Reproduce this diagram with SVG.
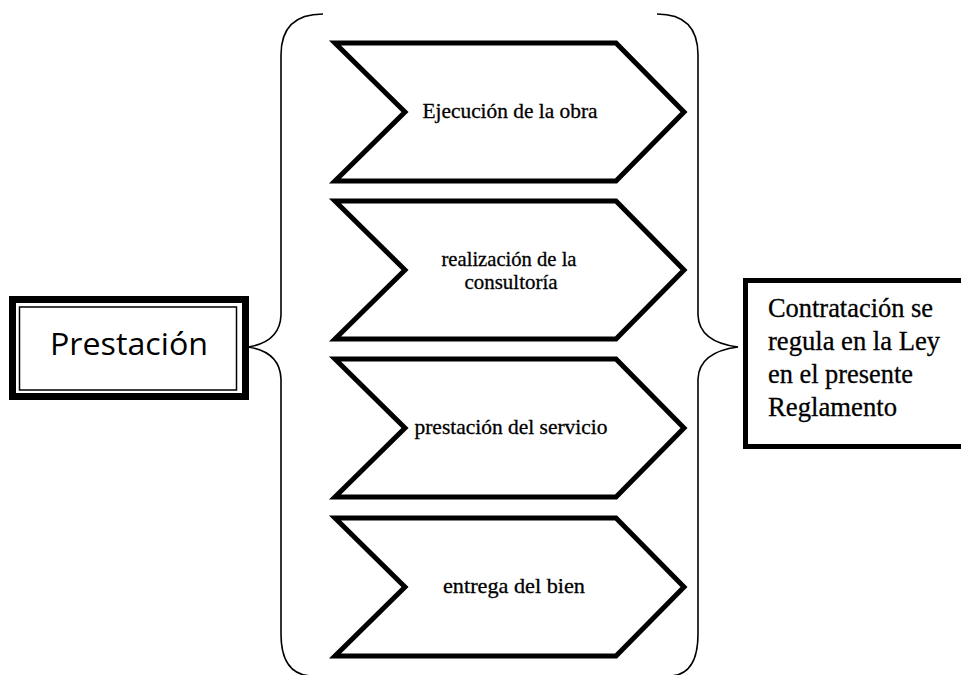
<svg xmlns="http://www.w3.org/2000/svg" width="961" height="675" viewBox="0 0 961 675">
<style>
.chev{fill:#fff;stroke:#000;stroke-width:5;stroke-linejoin:miter}
.brace{fill:none;stroke:#000;stroke-width:1.6}
.ct{font-family:"Liberation Serif","Times New Roman",serif;font-size:21px;fill:#000;stroke:#000;stroke-width:0.3;text-anchor:middle}
.rt{font-family:"Liberation Serif","Times New Roman",serif;font-size:27px;fill:#000;stroke:#000;stroke-width:0.3}
</style>
<rect width="961" height="675" fill="#fff"/>
<g id="connectors">
<path class="brace" d="M323 14 Q281 14 281 55 L281 315 Q280 342 248 347 Q280 352 281 379 L281 634 Q281 675 312 676"/>
<path class="brace" d="M657 14 Q698 14 698 55 L698 315 Q699 342 738 347 Q699 352 698 379 L698 634 Q698 675 670 676"/>
</g>
<g id="prestacion">
<rect x="12.5" y="299.5" width="233" height="97" fill="#fff" stroke="#000" stroke-width="7"/>
<rect x="19.5" y="307" width="217" height="83" fill="none" stroke="#000" stroke-width="1.5"/>
<text x="129" y="355" font-family="'Open Sans','Noto Sans',sans-serif" font-size="31" text-anchor="middle" textLength="158" lengthAdjust="spacingAndGlyphs">Prestación</text>
</g>
<g id="chevron1">
<polygon class="chev" points="335,43 616,43 684,112 616,181 335,181 405,112"/>
<text class="ct" x="510" y="118" textLength="175" lengthAdjust="spacingAndGlyphs">Ejecución de la obra</text>
</g>
<g id="chevron2">
<polygon class="chev" points="335,201 616,201 684,270 616,339 335,339 405,270"/>
<text class="ct" x="509" y="266" textLength="135" lengthAdjust="spacingAndGlyphs">realización de la</text>
<text class="ct" x="511" y="289" textLength="93" lengthAdjust="spacingAndGlyphs">consultoría</text>
</g>
<g id="chevron3">
<polygon class="chev" points="335,359 616,359 684,428 616,497 335,497 405,428"/>
<text class="ct" x="511" y="434" textLength="193" lengthAdjust="spacingAndGlyphs">prestación del servicio</text>
</g>
<g id="chevron4">
<polygon class="chev" points="335,518 616,518 684,587 616,656 335,656 405,587"/>
<text class="ct" x="514" y="593" textLength="142" lengthAdjust="spacingAndGlyphs">entrega del bien</text>
</g>
<g id="contratacion">
<rect x="745.5" y="280.5" width="240" height="166" fill="#fff" stroke="#000" stroke-width="5"/>
<text class="rt" x="768" y="317" textLength="165" lengthAdjust="spacingAndGlyphs">Contratación se</text>
<text class="rt" x="768" y="350" textLength="172" lengthAdjust="spacingAndGlyphs">regula en la Ley</text>
<text class="rt" x="768" y="383" textLength="145" lengthAdjust="spacingAndGlyphs">en el presente</text>
<text class="rt" x="768" y="416" textLength="129" lengthAdjust="spacingAndGlyphs">Reglamento</text>
</g>
</svg>
